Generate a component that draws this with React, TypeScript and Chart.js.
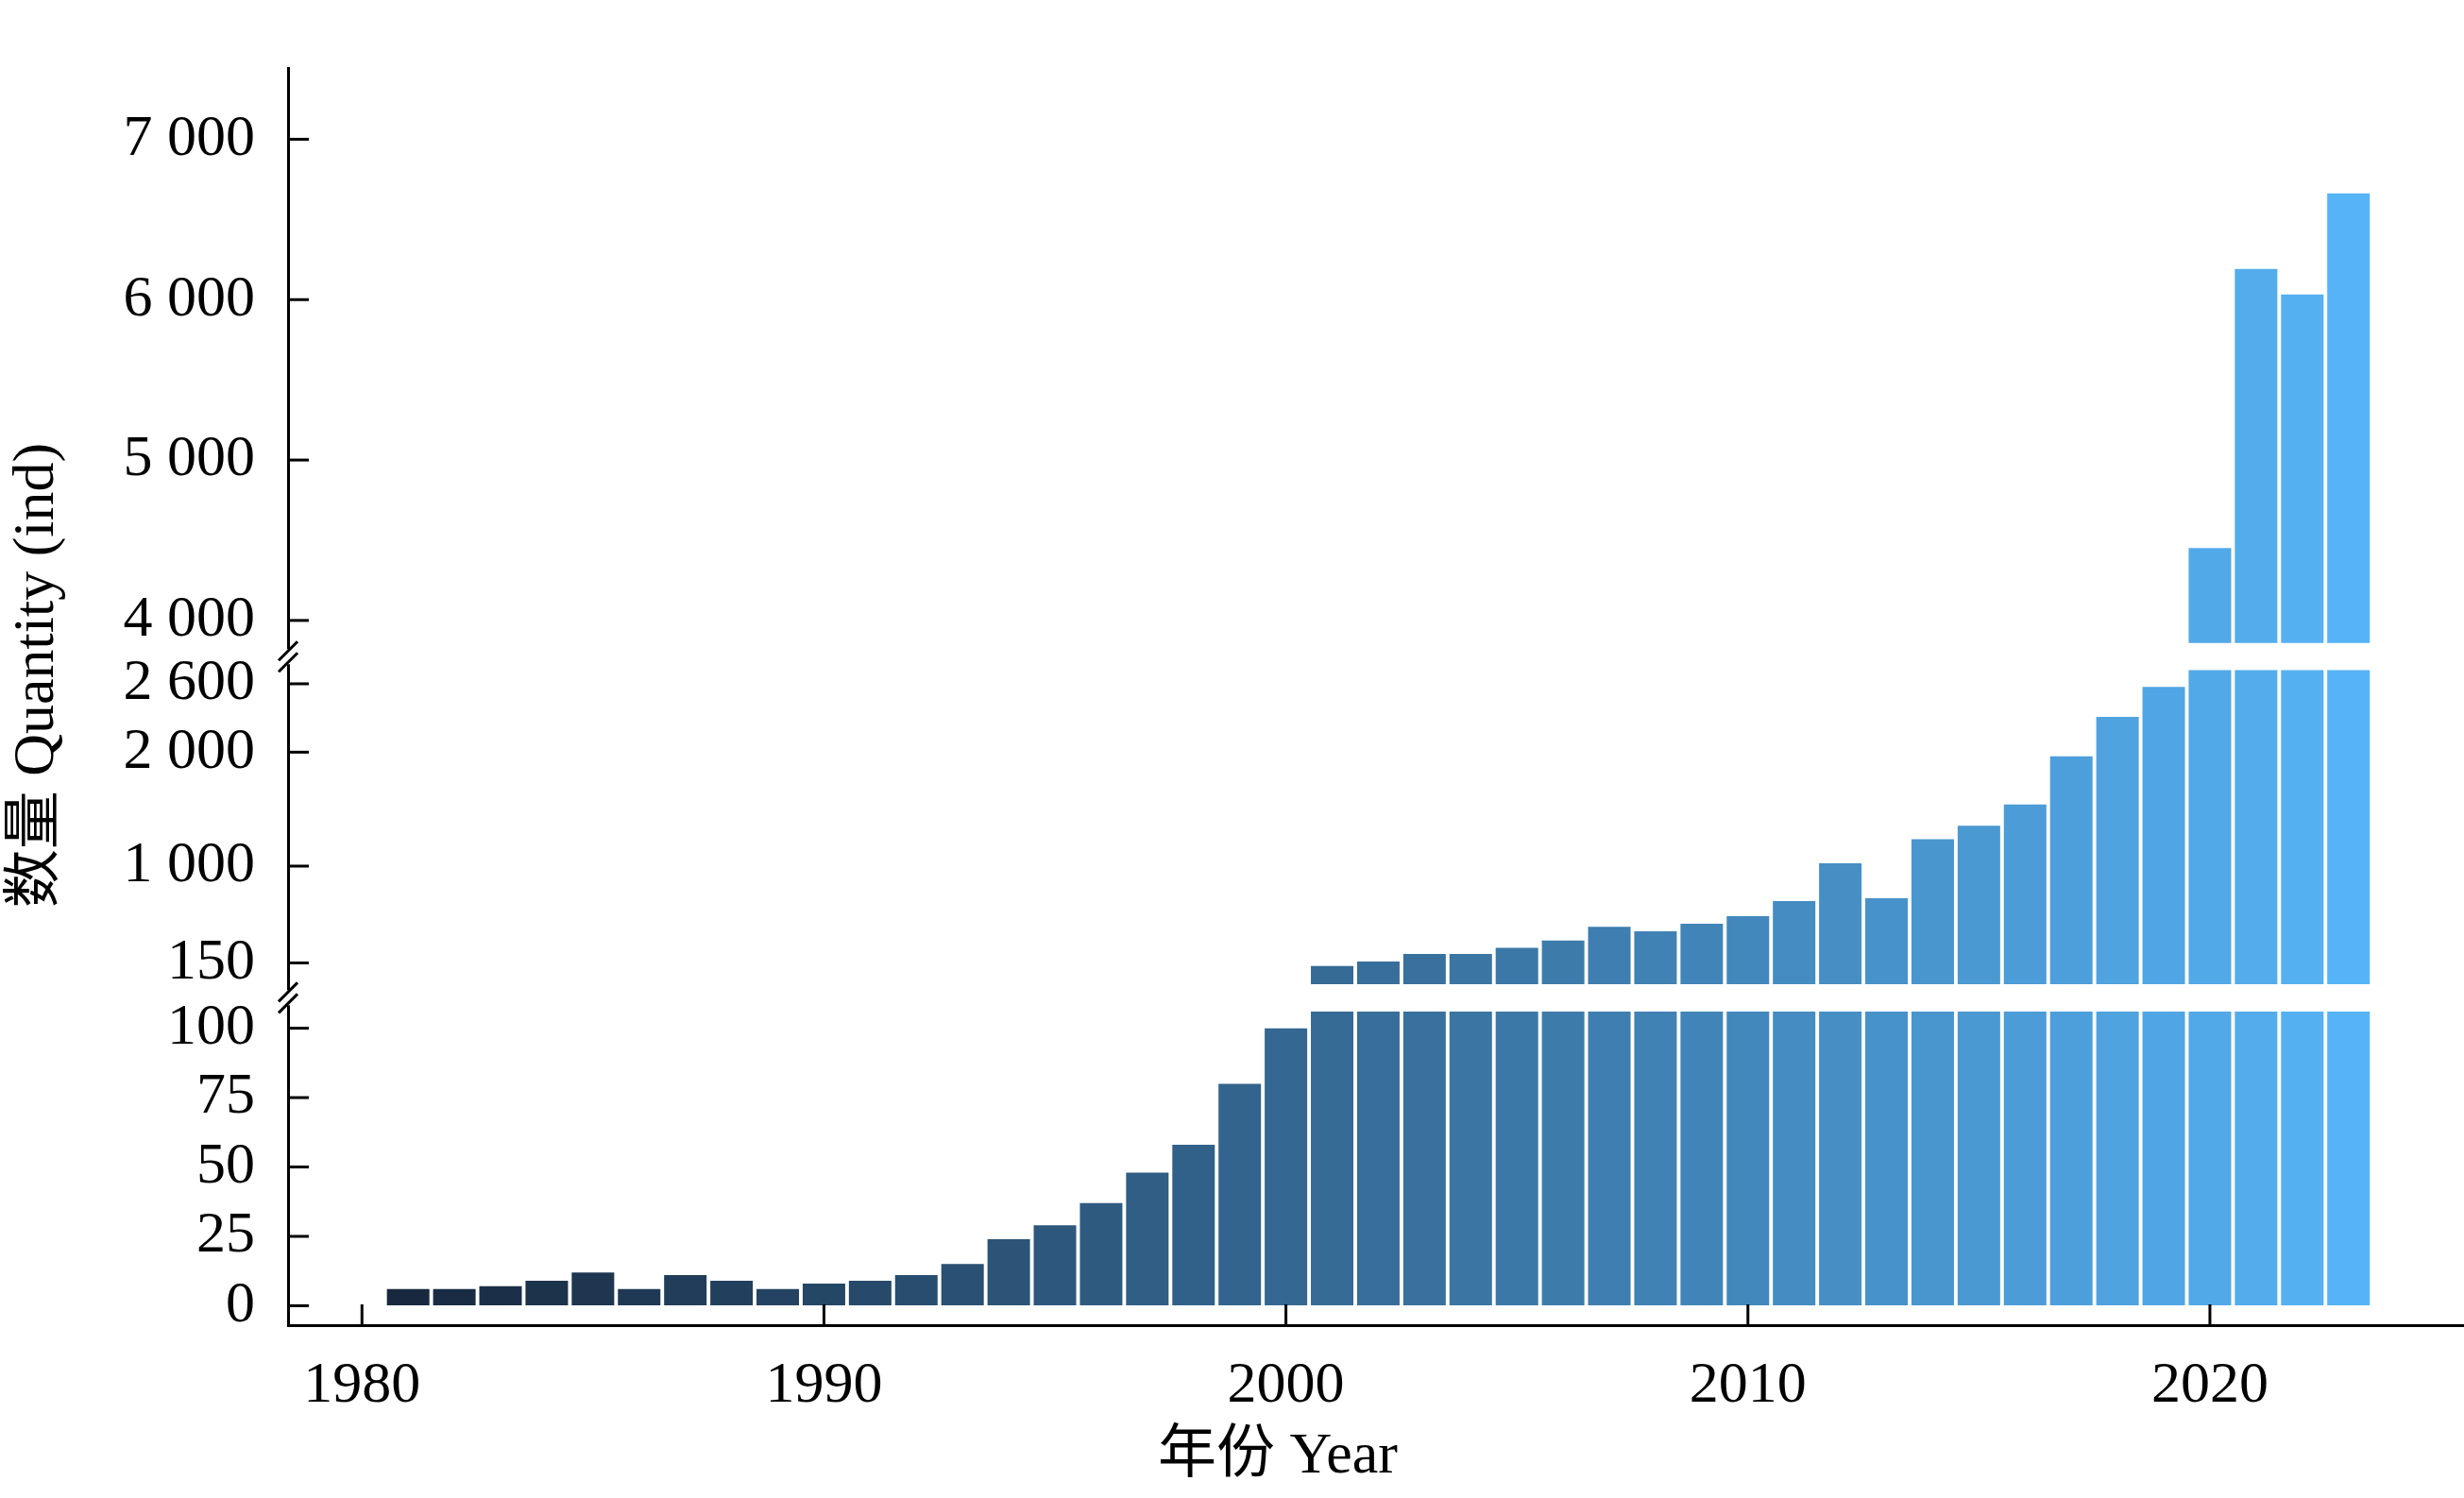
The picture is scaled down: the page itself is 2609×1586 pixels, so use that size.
import React, { useEffect, useRef } from "react";
import { Chart, registerables } from "chart.js";
Chart.register(...registerables);

const years = [1981,1982,1983,1984,1985,1986,1987,1988,1989,1990,1991,1992,1993,1994,1995,1996,1997,1998,1999,2000,2001,2002,2003,2004,2005,2006,2007,2008,2009,2010,2011,2012,2013,2014,2015,2016,2017,2018,2019,2020,2021,2022,2023];
const counts = [6,6,7,9,12,6,11,9,6,8,9,11,15,24,29,37,48,58,80,100,123,163,229,229,282,348,467,428,494,560,693,1024,719,1236,1355,1540,1964,2309,2573,4452,6192,6032,6662];
const topTicks = [4000,5000,6000,7000];
const midTicks = [150,1000,2000,2600];
const lowTicks = [0,25,50,75,100];
const xTicks = [1980,1990,2000,2010,2020];

const LOW_CAP = 106, LOW_MIN = -7, LOW_MAX = 111;
const MID_BASE = -36, MID_CAP = 2720, MID_MIN = -155, MID_MAX = 2838;
const TOP_BASE = 3859, TOP_MIN = 3774, TOP_MAX = 7443;

const fmt = (v: number) => String(v).replace(/\B(?=(\d{3})+(?!\d))/g, " ");
const c0 = [24, 41, 63], c1 = [86, 179, 245];
const colors = years.map((_, i) => {
  const t = i / (years.length - 1);
  const c = c0.map((a, k) => Math.round(a + (c1[k] - a) * t));
  return `rgb(${c[0]},${c[1]},${c[2]})`;
});

const FONT = "'Liberation Serif', 'Noto Sans CJK SC', serif";

export default function App() {
  const ref = useRef<HTMLCanvasElement>(null);
  useEffect(() => {
    document.body.style.margin = "0";
    const lowData = years.map((y, i) => ({ x: y, y: [0, Math.min(counts[i], LOW_CAP)] }));
    const midData = years.map((y, i) => ({ x: y, y: counts[i] > LOW_CAP ? [MID_BASE, Math.min(counts[i], MID_CAP)] : null }));
    const topData = years.map((y, i) => ({ x: y, y: counts[i] > MID_CAP ? [TOP_BASE, counts[i]] : null }));
    const ds = (data: any, axis: string) => ({
      data, yAxisID: axis, backgroundColor: colors, grouped: false,
      barPercentage: 0.92, categoryPercentage: 1, borderWidth: 0,
    });
    const yAx = (min: number, max: number, ticks: number[], weight: number) => ({
      type: "linear", position: "left", stack: "y", stackWeight: weight, min, max,
      afterBuildTicks: (s: any) => { s.ticks = ticks.map(v => ({ value: v })); },
      afterFit: (s: any) => { s.width = 305; },
      grid: { drawOnChartArea: false, drawTicks: false },
      border: { display: true, color: "#000", width: 3 },
      ticks: { color: "#000", padding: 35, autoSkip: false, font: { family: FONT, size: 62 }, callback: (v: any) => fmt(v) },
    });
    const plugin = {
      id: "deco",
      afterDraw(chart: any) {
        const ctx = chart.ctx;
        const area = chart.chartArea;
        ctx.save();
        ctx.strokeStyle = "#000";
        ctx.lineWidth = 3;
        const ax = area.left;
        ["yTop", "yMid", "yLow"].forEach((id: string) => {
          const s = chart.scales[id];
          s.ticks.forEach((t: any) => {
            const p = s.getPixelForValue(t.value);
            ctx.beginPath(); ctx.moveTo(ax, p); ctx.lineTo(ax + 22, p); ctx.stroke();
          });
        });
        const xs = chart.scales.x;
        xTicks.forEach(v => {
          const p = xs.getPixelForValue(v);
          ctx.beginPath(); ctx.moveTo(p, area.bottom); ctx.lineTo(p, area.bottom - 22); ctx.stroke();
        });
        [chart.scales.yMid.top, chart.scales.yLow.top].forEach((yb: number) => {
          ctx.fillStyle = "#fff";
          ctx.fillRect(ax - 10, yb - 8, 20, 16);
          ctx.beginPath();
          ctx.moveTo(ax - 10, yb + 4); ctx.lineTo(ax + 10, yb - 16); ctx.stroke();
          ctx.beginPath();
          ctx.moveTo(ax - 10, yb + 16); ctx.lineTo(ax + 10, yb - 4); ctx.stroke();
        });
        ctx.fillStyle = "#000";
        ctx.font = `62px ${FONT}`;
        ctx.textAlign = "center";
        ctx.textBaseline = "middle";
        ctx.fillText("年份 Year", 1353, 1543);
        ctx.translate(40, 715);
        ctx.rotate(-Math.PI / 2);
        ctx.fillText("数量 Quantity (ind)", 0, 0);
        ctx.restore();
      },
    };
    const chart = new Chart(ref.current!, {
      type: "bar",
      data: { datasets: [ds(topData, "yTop"), ds(midData, "yMid"), ds(lowData, "yLow")] as any },
      options: {
        animation: false, responsive: false, maintainAspectRatio: false,
        layout: { padding: { top: 17, left: 0, right: 0, bottom: 0 } },
        plugins: { legend: { display: false }, tooltip: { enabled: false } },
        scales: {
          x: {
            type: "linear", min: 1978.4, max: 2025.5, offset: false,
            afterBuildTicks: (s: any) => { s.ticks = xTicks.map(v => ({ value: v })); },
            afterFit: (s: any) => { s.height = 183; },
            grid: { drawOnChartArea: false, drawTicks: false, offset: false },
            border: { display: true, color: "#000", width: 3 },
            ticks: { color: "#000", padding: 28, autoSkip: false, font: { family: FONT, size: 62 }, callback: (v: any) => String(v) },
          },
          yLow: yAx(LOW_MIN, LOW_MAX, lowTicks, 217),
          yMid: yAx(MID_MIN, MID_MAX, midTicks, 226),
          yTop: yAx(TOP_MIN, TOP_MAX, topTicks, 390),
        } as any,
      },
      plugins: [plugin],
    });
    return () => chart.destroy();
  }, []);
  return <canvas ref={ref} width={2609} height={1586} style={{ display: "block" }} />;
}
